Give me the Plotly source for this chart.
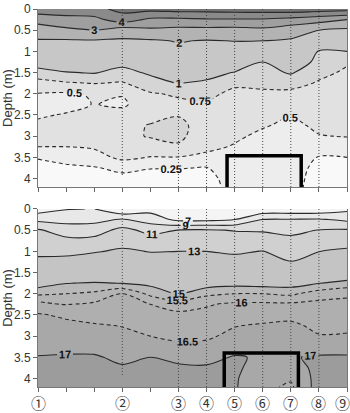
import plotly.graph_objects as go
from plotly.subplots import make_subplots

# ---------------- grid ----------------
x_grid = [0, 1, 2, 3, 4, 5, 6, 7, 8, 9, 10, 11]
depth_grid = [0, 0.25, 0.5, 0.75, 1.0, 1.25, 1.5, 1.75, 2.0, 2.25, 2.5, 2.75,
              3.0, 3.25, 3.5, 3.75, 4.0, 4.25]

# ---------------- upper panel: values per column (depth profile) ----------------
up_x00 = [4.6, 3.35, 2.53, 1.92, 1.55, 1.17, 0.87, 0.67, 0.49, 0.42, 0.47, 0.55, 0.56, 0.50, 0.27, 0.15, 0.10, 0.08]
up_x01 = [4.6, 3.64, 2.80, 1.89, 1.59, 1.28, 0.98, 0.72, 0.47, 0.42, 0.52, 0.60, 0.58, 0.50, 0.34, 0.20, 0.12, 0.10]
up_x02 = [4.7, 3.70, 2.98, 1.92, 1.62, 1.32, 1.02, 0.76, 0.52, 0.51, 0.60, 0.65, 0.62, 0.53, 0.40, 0.23, 0.15, 0.12]
up_x03 = [5.3, 4.50, 2.50, 1.87, 1.50, 1.10, 0.90, 0.73, 0.52, 0.45, 0.62, 0.70, 0.68, 0.62, 0.56, 0.31, 0.18, 0.14]
up_x04 = [5.3, 3.80, 2.80, 1.90, 1.60, 1.35, 1.05, 0.87, 0.73, 0.68, 0.70, 0.76, 0.77, 0.64, 0.49, 0.26, 0.16, 0.13]
up_x05 = [5.4, 3.80, 2.70, 2.05, 1.80, 1.55, 1.28, 1.01, 0.78, 0.70, 0.74, 0.80, 0.80, 0.72, 0.49, 0.26, 0.16, 0.13]
up_x06 = [5.4, 3.90, 2.70, 1.95, 1.70, 1.45, 1.15, 0.93, 0.80, 0.73, 0.68, 0.66, 0.62, 0.56, 0.44, 0.24, 0.20, 0.18]
up_x07 = [5.5, 3.90, 2.65, 2.02, 1.60, 1.30, 0.98, 0.79, 0.70, 0.66, 0.62, 0.58, 0.54, 0.48, 0.40, 0.35, 0.32, 0.31]
up_x08 = [5.5, 3.90, 2.75, 2.00, 1.40, 1.00, 0.90, 0.79, 0.72, 0.65, 0.58, 0.52, 0.45, 0.40, 0.36, 0.33, 0.31, 0.30]
up_x09 = [5.6, 3.70, 2.40, 1.90, 1.60, 1.30, 1.03, 0.82, 0.70, 0.61, 0.51, 0.45, 0.40, 0.36, 0.33, 0.33, 0.32, 0.31]
up_x10 = [5.5, 3.40, 2.00, 1.40, 0.97, 0.88, 0.80, 0.73, 0.68, 0.64, 0.59, 0.54, 0.49, 0.36, 0.24, 0.20, 0.18, 0.17]
up_x11 = [5.4, 3.00, 1.80, 1.40, 1.00, 0.77, 0.72, 0.68, 0.64, 0.61, 0.58, 0.54, 0.51, 0.38, 0.25, 0.20, 0.17, 0.16]

# ---------------- lower panel ----------------
lo_x00 = [6.0, 8.5, 11.2, 11.9, 12.7, 13.3, 14.0, 14.7, 15.4, 16.2, 16.55, 16.65, 16.75, 16.88, 17.02, 17.15, 17.2, 17.25]
lo_x01 = [6.9, 8.3, 10.1, 11.5, 12.6, 13.5, 14.25, 14.98, 15.5, 15.98, 16.42, 16.62, 16.75, 16.9, 17.04, 17.15, 17.2, 17.25]
lo_x02 = [7.05, 8.4, 10.1, 11.6, 12.9, 13.65, 14.35, 15.05, 15.6, 16.1, 16.3, 16.55, 16.7, 16.87, 17.05, 17.15, 17.2, 17.25]
lo_x03 = [5.0, 9.2, 11.6, 12.5, 13.2, 13.8, 14.4, 14.98, 16.0, 16.15, 16.3, 16.48, 16.62, 16.75, 16.9, 17.05, 17.15, 17.2]
lo_x04 = [6.3, 8.1, 10.4, 11.9, 12.95, 13.55, 14.2, 14.85, 15.37, 16.0, 16.15, 16.3, 16.5, 16.75, 17.0, 17.12, 17.18, 17.22]
lo_x05 = [5.8, 6.5, 11.05, 12.0, 13.0, 13.5, 14.0, 14.45, 14.95, 15.8, 16.1, 16.25, 16.4, 16.6, 16.88, 17.08, 17.15, 17.2]
lo_x06 = [5.8, 6.5, 11.2, 12.0, 13.0, 13.55, 14.1, 14.7, 15.38, 15.95, 16.14, 16.28, 16.44, 16.6, 16.85, 17.06, 17.14, 17.2]
lo_x07 = [6.3, 7.0, 10.9, 11.9, 12.8, 13.5, 14.15, 14.8, 15.5, 16.1, 16.25, 16.48, 16.6, 16.8, 17.04, 17.05, 17.05, 17.05]
lo_x08 = [5.5, 9.0, 10.8, 12.0, 13.05, 13.6, 14.2, 14.75, 15.5, 16.1, 16.3, 16.55, 16.7, 16.85, 16.95, 16.88, 16.7, 16.6]
lo_x09 = [5.5, 9.1, 10.6, 11.4, 12.3, 13.05, 13.9, 14.75, 15.4, 16.1, 16.35, 16.6, 16.75, 16.88, 16.97, 16.8, 16.55, 16.4]
lo_x10 = [5.5, 9.2, 11.05, 12.0, 12.98, 13.65, 14.3, 14.98, 15.75, 16.15, 16.25, 16.38, 16.53, 16.8, 17.05, 17.12, 17.18, 17.22]
lo_x11 = [6.5, 8.6, 11.2, 12.5, 13.2, 13.75, 14.45, 15.2, 15.9, 16.15, 16.25, 16.38, 16.55, 16.82, 17.05, 17.12, 17.18, 17.22]

# ---------------- levels, stations, box ----------------
up_levels = [0.25, 0.5, 0.75, 1, 2, 3, 4, 5]
up_colors = ['#f9f9f9', '#ededed', '#e1e1e1', '#d5d5d5', '#c7c7c7',
             '#b3b3b3', '#9f9f9f', '#8a8a8a', '#747474']
up_dashed = [0.25, 0.5, 0.75]

lo_levels = [7, 9, 11, 13, 15, 15.5, 16, 16.5, 17]
lo_colors = ['#f4f4f4', '#e8e8e8', '#dcdcdc', '#d0d0d0', '#c4c4c4',
             '#b9b9b9', '#b4b4b4', '#afafaf', '#a8a8a8', '#9c9c9c']
lo_dashed = [15.5, 16, 16.5]

station_x = [0, 3, 5, 6, 7, 8, 9, 10, 11]
station_labels = ['①', '②', '③', '④', '⑤', '⑥', '⑦', '⑧', '⑨']
profile_x = [3, 5, 6, 7, 8, 9, 10]
profile_end = [3.95, 4.2, 4.2, 4.2, 4.2, 4.2, 4.2]

up_box_x = [6.73, 9.37]
up_box_top = 3.46
lo_box_x = [6.63, 9.27]
lo_box_top = 3.40

y_max = 4.2

up_cols = [up_x00, up_x01, up_x02, up_x03, up_x04, up_x05, up_x06, up_x07, up_x08, up_x09, up_x10, up_x11]
lo_cols = [lo_x00, lo_x01, lo_x02, lo_x03, lo_x04, lo_x05, lo_x06, lo_x07, lo_x08, lo_x09, lo_x10, lo_x11]
z_up = [list(r) for r in zip(*up_cols)]
z_lo = [list(r) for r in zip(*lo_cols)]

fig = make_subplots(rows=2, cols=1, vertical_spacing=0.058)

SMOOTH = 0.9


def add_panel(z, levels, colors, dashed, row, box_x, box_top):
    # filled bands (stacked constraints)
    for lv, col in zip(levels, colors[1:]):
        fig.add_trace(go.Contour(
            x=x_grid, y=depth_grid, z=z, showscale=False, hoverinfo='skip',
            contours=dict(type='constraint', operation='<', value=lv),
            fillcolor=col, line=dict(width=0, smoothing=SMOOTH)), row=row, col=1)
    # contour lines with labels
    for lv in levels:
        fig.add_trace(go.Contour(
            x=x_grid, y=depth_grid, z=z, showscale=False, hoverinfo='skip',
            autocontour=False,
            contours=dict(start=lv, end=lv, size=1, coloring='lines',
                          showlabels=True,
                          labelfont=dict(size=11, color='#111', family='Arial', weight='bold')),
            colorscale=[[0, '#2a2a2a'], [1, '#2a2a2a']],
            line=dict(width=1.1, dash='4px,3px' if lv in dashed else 'solid', smoothing=SMOOTH)),
            row=row, col=1)
    # station profile lines
    xs, ys = [], []
    for sx, se in zip(profile_x, profile_end):
        xs += [sx, sx, None]
        ys += [0, se, None]
    fig.add_trace(go.Scatter(x=xs, y=ys, mode='lines', hoverinfo='skip',
                             line=dict(color='#444444', width=1, dash='1px,2px'),
                             showlegend=False), row=row, col=1)
    # black box
    fig.add_trace(go.Scatter(x=[box_x[0], box_x[0], box_x[1], box_x[1]],
                             y=[y_max + 0.1, box_top, box_top, y_max + 0.1],
                             mode='lines', hoverinfo='skip',
                             line=dict(color='black', width=3.5), showlegend=False),
                  row=row, col=1)


add_panel(z_up, up_levels, up_colors, up_dashed, 1, up_box_x, up_box_top)
add_panel(z_lo, lo_levels, lo_colors, lo_dashed, 2, lo_box_x, lo_box_top)

# base colours for each panel
fig.add_shape(type='rect', xref='x domain', yref='y domain', x0=0, x1=1, y0=0, y1=1,
              fillcolor=up_colors[0], line_width=0, layer='below')
fig.add_shape(type='rect', xref='x2 domain', yref='y2 domain', x0=0, x1=1, y0=0, y1=1,
              fillcolor=lo_colors[0], line_width=0, layer='below')

axis_font = dict(family='Arial', size=12, color='#333333')
for r in (1, 2):
    fig.update_xaxes(range=[0, 11], dtick=1, ticks='outside', ticklen=4, tickcolor='#666',
                     showticklabels=False, showgrid=False, zeroline=False,
                     showline=True, linecolor='#777', linewidth=1, row=r, col=1)
    fig.update_yaxes(range=[y_max, 0], dtick=0.5, tick0=0, ticks='outside', ticklen=4,
                     tickcolor='#666', tickfont=axis_font, showgrid=False, zeroline=False,
                     showline=True, linecolor='#777', linewidth=1, mirror=True,
                     title=dict(text='Depth (m)', font=dict(family='Arial', size=13, color='#333'),
                                standoff=2),
                     row=r, col=1)

for sx, lab in zip(station_x, station_labels):
    shift = -5 if sx == station_x[-1] else 0
    fig.add_annotation(x=sx, y=-0.04, xref='x2', yref='paper', text=lab, showarrow=False,
                       font=dict(family='Noto Sans CJK JP', size=15, color='#333'),
                       xanchor='center', yanchor='middle', xshift=shift)

fig.update_layout(width=350, height=413, margin=dict(l=38, r=2, t=7, b=26),
                  paper_bgcolor='white', plot_bgcolor='white', showlegend=False)

fig.write_html('out.html')
